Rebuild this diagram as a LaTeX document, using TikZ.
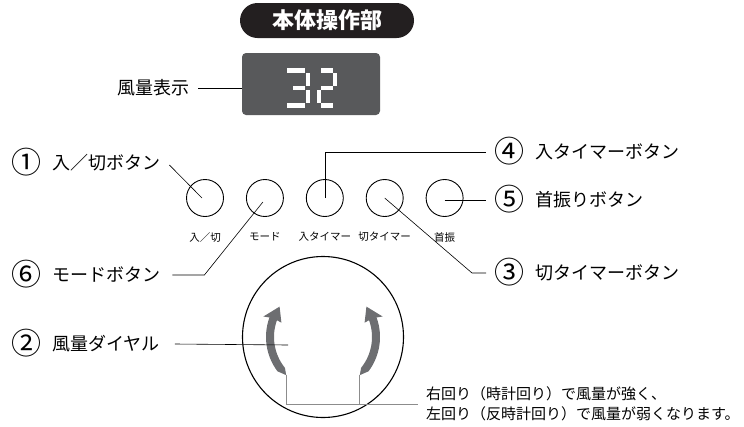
\documentclass[tikz,border=0pt]{standalone}
\usepackage{fontspec}
\setmainfont{Noto Sans CJK JP}
\usetikzlibrary{arrows.meta,positioning}

\definecolor{pillblack}{HTML}{231F20}
\definecolor{lcdgray}{HTML}{58595B}
\definecolor{turngray}{HTML}{6D6E71}
\definecolor{leadgray}{HTML}{8C8C8C}

% circled number, enlarged to the size of the callout text
\newcommand{\cnum}[1]{\smash{\raisebox{-3.5pt}{\fontsize{30}{20}\selectfont #1}}\hspace{11pt}}

\begin{document}
\begin{tikzpicture}[
    x=1pt, y=-1pt,
    btn/.style={
        circle,
        draw=black,
        line width=0.9pt,
        minimum size=37pt,
        inner sep=0pt
    },
    btnlbl/.style={
        font=\fontsize{10.5}{12}\selectfont,
        inner sep=0pt
    },
    callout/.style={
        font=\fontsize{18}{21}\selectfont,
        inner sep=0pt,
        anchor=west
    },
    lead/.style={draw=black, line width=0.6pt},
    graylead/.style={draw=leadgray, line width=1pt},
    seg/.style={draw=white, line width=4.2pt},
    turn/.style={fill=turngray, draw=none}
]
\useasboundingbox (0,0) rectangle (744,426);

% title and display
\node[fill=pillblack, rounded corners=17.5pt, minimum width=174pt, minimum height=35pt,
      text=white, font=\fontsize{22}{24}\selectfont\bfseries] (title) at (327,20.5) {本体操作部};
\node[fill=lcdgray, rounded corners=4pt, minimum width=138pt, minimum height=62pt] (lcd) at (311,84) {};
\foreach \xa/\ya/\xb/\yb in {287/70.5/305/70.5, 308/73/308/86, 308/90/308/103, 287/105.5/305/105.5, 293/88/305/88,
                             321/70.5/333/70.5, 335/73/335/86, 321/88/333/88, 319/90/319/103, 321/105.5/333/105.5}
    \draw[seg] (\xa,\ya) -- (\xb,\yb);
\node[callout, anchor=east] (lcdlbl) at (190,88) {風量表示};
\draw[lead] ([xshift=8pt]lcdlbl.east) -- (lcd.west |- lcdlbl.east);

% buttons
\node[btn] (onoff) at (205,198) {};
\node[btn, right=22pt of onoff] (mode) {};
\node[btn, right=22pt of mode] (ontimer) {};
\node[btn, right=22pt of ontimer] (offtimer) {};
\node[btn, right=22pt of offtimer] (swing) {};

\node[btnlbl, below=15pt of onoff] {入／切};
\node[btnlbl, below=15pt of mode] {モード};
\node[btnlbl, below=15pt of ontimer] {入タイマー};
\node[btnlbl, below=15pt of offtimer] {切タイマー};
\node[btnlbl, below=15pt of swing] {首振};

% dial
\node[circle, draw=black, line width=1.1pt, minimum size=161pt, inner sep=0pt] (dial) at (323,337) {};
\begin{scope}[shift={(dial.center)}]
    \fill[turn] (134:53) -- (143:57) arc[start angle=143, end angle=200, radius=57]
        -- (199:63) -- (215:53) -- (199:44) -- (200:49)
        arc[start angle=200, end angle=141, radius=49] -- cycle;
    \fill[turn] (46:53) -- (37:57) arc[start angle=37, end angle=-20, radius=57]
        -- (-19:63) -- (-35:53) -- (-19:44) -- (-20:49)
        arc[start angle=-20, end angle=39, radius=49] -- cycle;
    \coordinate (ltail) at (134:53);
    \coordinate (rtail) at (46:53);
\end{scope}
\coordinate (dialmark) at (288,345);

% callouts
\node[callout] (lonoff) at (11,163) {\cnum{①}入／切ボタン};
\node[callout] (lmode) at (11,275) {\cnum{⑥}モードボタン};
\node[callout] (ldial) at (11,344) {\cnum{②}風量ダイヤル};
\node[callout] (lontimer) at (494,152) {\cnum{④}入タイマーボタン};
\node[callout] (lswing) at (494,200) {\cnum{⑤}首振りボタン};
\node[callout] (lofftimer) at (494,273) {\cnum{③}切タイマーボタン};

\draw[lead] ([xshift=9pt,yshift=-2pt]lonoff.east) -- ([xshift=-3pt]onoff.center);
\draw[lead] ([xshift=12pt]lmode.east) -- ([xshift=44pt]lmode.east) -- ([xshift=-2pt,yshift=-4pt]mode.center);
\draw[lead] ([xshift=15pt]ldial.east) -- (dialmark);
\draw[lead] (ontimer.center) -- (ontimer.center |- lontimer.west) -- ([xshift=-8pt]lontimer.west);
\draw[lead] (swing.center |- lswing.west) -- ([xshift=-8pt]lswing.west);
\draw[lead] (offtimer.center) -- ([xshift=-22pt]lofftimer.west) -- ([xshift=-8pt]lofftimer.west);

% note on turning direction
\node[font=\fontsize{15}{20}\selectfont, align=left, anchor=west, inner sep=0pt] (note) at (426,404)
    {右回り（時計回り）で風量が強く、\\左回り（反時計回り）で風量が弱くなります。};
\draw[graylead] (ltail) -- (ltail |- note.west) -- ([xshift=-8pt]note.west);
\draw[graylead] (rtail) -- (rtail |- note.west);

\end{tikzpicture}
\end{document}
